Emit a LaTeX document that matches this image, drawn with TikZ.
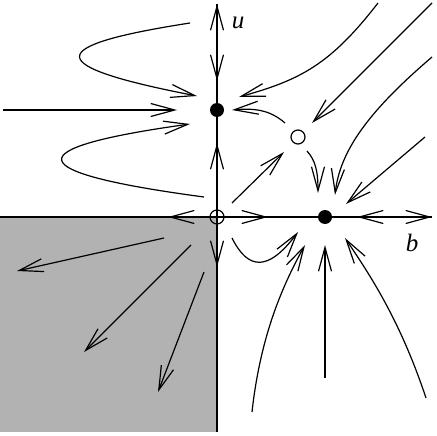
\documentclass[tikz,border=0pt]{standalone}
\usepackage{fontspec}
\setmainfont{Liberation Serif}
\usetikzlibrary{arrows.meta}

\begin{document}
\begin{tikzpicture}[x=1pt, y=-1pt, line width=1.2pt, >={Straight Barb[length=24pt,width=13pt]},
		sink/.style={circle, fill=black, inner sep=0pt, minimum size=14pt},
		saddle/.style={circle, draw, inner sep=0pt, minimum size=14pt},
		axislabel/.style={font=\fontsize{25}{25}\selectfont\itshape}]
			\useasboundingbox (0,0) rectangle (436,436);
			\fill[black!30] (0,217) rectangle (217,432);

			% axes
			\draw (0,217) -- (432,217);
			\draw (217,4) -- (217,432);

			\node[saddle] (O) at (217,217) {};
			\node[sink] (U) at (217,110) {};
			\node[sink] (B) at (325,217) {};
			\node[saddle] (S) at (298,137) {};
			\node[axislabel] (ulab) at (238,23) {u};
			\node[axislabel] (blab) at (412,243) {b};

			% flow on the axes
			\foreach \xa/\ya/\xb/\yb in {217/30/217/4, 217/55/217/81, 217/168/217/143, 217/240/217/267,
				195/217/168/217, 243/217/268/217, 382/217/357/217, 408/217/432/217} {
				\draw[->] (\xa,\ya) -- (\xb,\yb);
			}

			% straight trajectories
			\foreach \xa/\ya/\xb/\yb in {3/110/177/110, 432/3/312/123, 232/203/284/152, 425/137/346/204,
				325/378/325/245, 164/238/17/271, 191/245/84/352, 204/272/158/392} {
				\draw[->] (\xa,\ya) -- (\xb,\yb);
			}

			% curved trajectories
			\draw[->] (190,23) .. controls (42,46) and (42,66) .. (197,96);
			\draw[->] (204,197) .. controls (17,172) and (17,148) .. (190,124);
			\draw[->] (378,3) .. controls (330,65) and (300,80) .. (239,97);
			\draw[->] (285,123) .. controls (270,110) and (255,108) .. (232,110);
			\draw[->] (307,151) .. controls (315,160) and (318,170) .. (318,193);
			\draw[->] (432,57) .. controls (370,110) and (340,150) .. (335,195);
			\draw[->] (232,238) .. controls (248,270) and (268,272) .. (298,232);
			\draw[->] (252,412) .. controls (260,340) and (280,290) .. (305,245);
			\draw[->] (426,398) .. controls (400,320) and (370,275) .. (345,238);
		\end{tikzpicture}
\end{document}
